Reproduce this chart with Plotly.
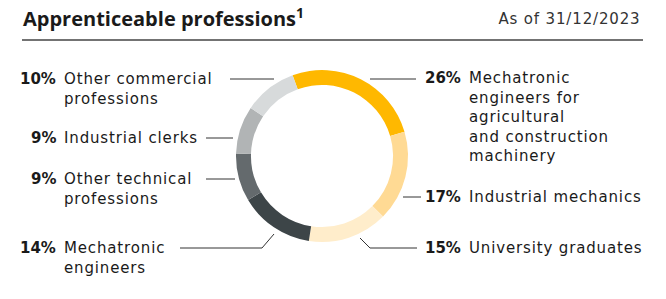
import plotly.graph_objects as go

W, H = 666, 299

labels = ["Mechatronic engineers for agricultural and construction machinery",
          "Industrial mechanics", "University graduates", "Mechatronic engineers",
          "Other technical professions", "Industrial clerks", "Other commercial professions"]
values = [26, 17, 15, 14, 9, 9, 10]
colors = ["#FFB800", "#FFDA94", "#FFEDCB", "#3D4548", "#646A6D", "#B1B4B5", "#D7DADB"]

title = "Apprenticeable professions<sup>1</sup>"
date_text = "As of 31/12/2023"

label_pct = ["26%", "17%", "15%", "14%", "9%", "9%", "10%"]
label_lines = [["Mechatronic", "engineers for", "agricultural", "and construction", "machinery"],
               ["Industrial mechanics"], ["University graduates"],
               ["Mechatronic", "engineers"], ["Other technical", "professions"],
               ["Industrial clerks"], ["Other commercial", "professions"]]
label_side = ["r", "r", "r", "l", "l", "l", "l"]
label_y = [78, 197, 248, 248, 179, 138, 79]

cx, cy, R = 322, 156, 86

def px(x):
    return x / W

def py(y):
    return 1 - y / H

fig = go.Figure(go.Pie(
    labels=labels, values=values, sort=False, direction="clockwise", rotation=-20,
    hole=0.826, marker=dict(colors=colors, line=dict(width=0)),
    textinfo="none", hoverinfo="label+percent", showlegend=False,
    domain=dict(x=[px(cx - R), px(cx + R)], y=[py(cy + R), py(cy - R)]),
))

FONT = "DejaVu Sans"
FS = 15
LH = FS * 1.3
TXT = "#1a1a1a"
ann = []
ann.append(dict(x=px(21), y=py(18), xref="paper", yref="paper", xanchor="left", yanchor="middle",
                text="<b>" + title + "</b>", showarrow=False, align="left",
                font=dict(family="Open Sans", size=20, color=TXT)))
ann.append(dict(x=px(643), y=py(19), xref="paper", yref="paper", xanchor="right", yanchor="middle",
                text=date_text, showarrow=False, align="right",
                font=dict(family=FONT, size=FS, color="#333")))

for pct, lines, side, y0 in zip(label_pct, label_lines, label_side, label_y):
    if side == "l":
        pct_x, txt_x = 58, 62
    else:
        pct_x, txt_x = 463, 467
    ann.append(dict(x=px(pct_x), y=py(y0), xref="paper", yref="paper", xanchor="right",
                    yanchor="middle", text="<b>" + pct + "</b>", showarrow=False, align="right",
                    font=dict(family=FONT, size=FS, color=TXT)))
    yc = y0 + (len(lines) - 1) * LH / 2
    ann.append(dict(x=px(txt_x), y=py(yc), xref="paper", yref="paper",
                    xanchor="left", yanchor="middle", text="<br>".join(lines), showarrow=False,
                    align="left", font=dict(family=FONT, size=FS, color=TXT)))

shapes = []
def seg(x0, y0, x1, y1, color="#333", w=1):
    shapes.append(dict(type="line", xref="paper", yref="paper", x0=px(x0), y0=py(y0),
                       x1=px(x1), y1=py(y1), line=dict(color=color, width=w)))

seg(22, 40, 643, 40, "#444", 1.3)
seg(230, 79, 274, 79)
seg(206, 138, 233, 138)
seg(206, 179, 235, 179)
seg(180, 248, 262, 248)
seg(262, 248, 274, 234)
seg(370, 79, 416, 79)
seg(403, 197, 421, 197)
seg(370, 248, 417, 248)
seg(360, 238, 370, 248)

fig.update_layout(width=W, height=H, margin=dict(l=0, r=0, t=0, b=0),
                  paper_bgcolor="white", plot_bgcolor="white",
                  annotations=ann, shapes=shapes)

post = """
document.body.style.margin='0px';
function spaceText(){
  document.querySelectorAll('.annotation-text').forEach(function(t){
    var s = t.textContent;
    if (s.indexOf('%') < 0 && s.indexOf('Apprenticeable') < 0) { t.style.letterSpacing = '0.85px'; }
  });
}
spaceText();
setTimeout(spaceText, 50);
"""
fig.write_html("out.html", post_script=post, config={"displayModeBar": False})
